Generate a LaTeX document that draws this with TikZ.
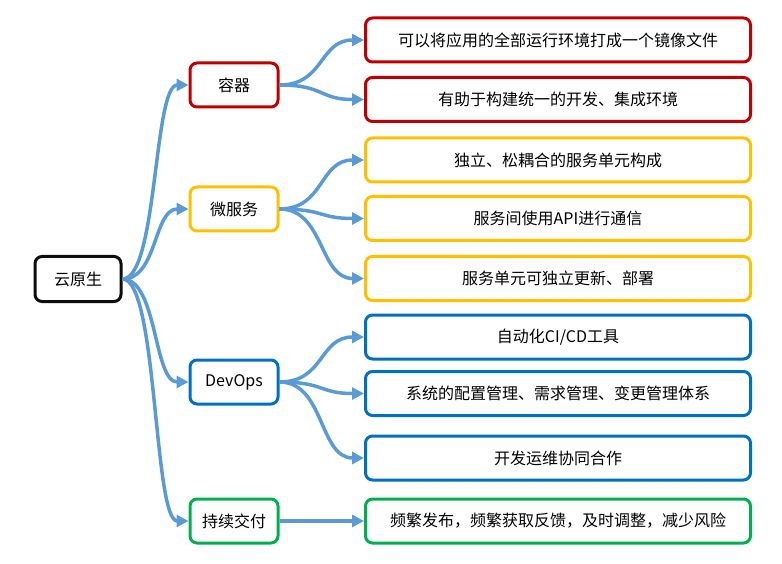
\documentclass[tikz,border=0pt]{standalone}
\usepackage{fontspec}
\setmainfont{Noto Sans CJK SC}
\usetikzlibrary{arrows.meta}
\definecolor{myred}{RGB}{192,0,0}
\definecolor{myyellow}{RGB}{255,192,0}
\definecolor{myblue}{RGB}{0,112,192}
\definecolor{mygreen}{RGB}{0,176,80}
\definecolor{myblack}{RGB}{13,13,13}
\definecolor{mylink}{RGB}{91,155,213}
\newcommand{\widthtopic}{88pt}
\newcommand{\widthleaf}{385pt}
\tikzset{
    common/.style={draw, rectangle, rounded corners=7pt, line width=3pt, fill=white, minimum height=44pt,
        font=\fontsize{16pt}{19pt}\selectfont},
    topic/.style={common, minimum width=\widthtopic},
    leaf/.style={common, minimum width=\widthleaf},
    link/.style={draw=mylink, line width=3.5pt, -{Triangle[length=12pt,width=12pt]}}
}
\begin{document}
\begin{tikzpicture}[x=1pt, y=-1pt]
    \useasboundingbox (0,0) rectangle (782,564);

    \node[common, draw=myblack, minimum width=86pt, minimum height=45pt] (cloud) at (78,279) {云原生};

    \node[topic, draw=myred] (container) at (234,85) {容器};
    \node[topic, draw=myyellow] (micro) at (234,209) {微服务};
    \node[topic, draw=myblue] (devops) at (234,382) {DevOps};
    \node[topic, draw=mygreen] (delivery) at (234,521) {持续交付};

    \node[leaf, draw=myred] (c1) at (558,40) {可以将应用的全部运行环境打成一个镜像文件};
    \node[leaf, draw=myred] (c2) at (558,99.5) {有助于构建统一的开发、集成环境};
    \node[leaf, draw=myyellow] (m1) at (558,160) {独立、松耦合的服务单元构成};
    \node[leaf, draw=myyellow] (m2) at (558,218.5) {服务间使用API进行通信};
    \node[leaf, draw=myyellow] (m3) at (558,278.5) {服务单元可独立更新、部署};
    \node[leaf, draw=myblue] (d1) at (558,337) {自动化CI/CD工具};
    \node[leaf, draw=myblue] (d2) at (558,393.5) {系统的配置管理、需求管理、变更管理体系};
    \node[leaf, draw=myblue] (d3) at (558,458) {开发运维协同合作};
    \node[leaf, draw=mygreen] (g1) at (558,521) {频繁发布，频繁获取反馈，及时调整，减少风险};

    % connectors
    \foreach \t in {container, micro, devops, delivery}
        \draw[link] (cloud.east) .. controls +(35,0) and +(-35,0) .. (\t.west);
    \foreach \a/\b in {container/c1, container/c2, micro/m1, micro/m2, micro/m3, devops/d1, devops/d2, devops/d3, delivery/g1}
        \draw[link] (\a.east) .. controls +(45,0) and +(-45,0) .. (\b.west);
\end{tikzpicture}
\end{document}
